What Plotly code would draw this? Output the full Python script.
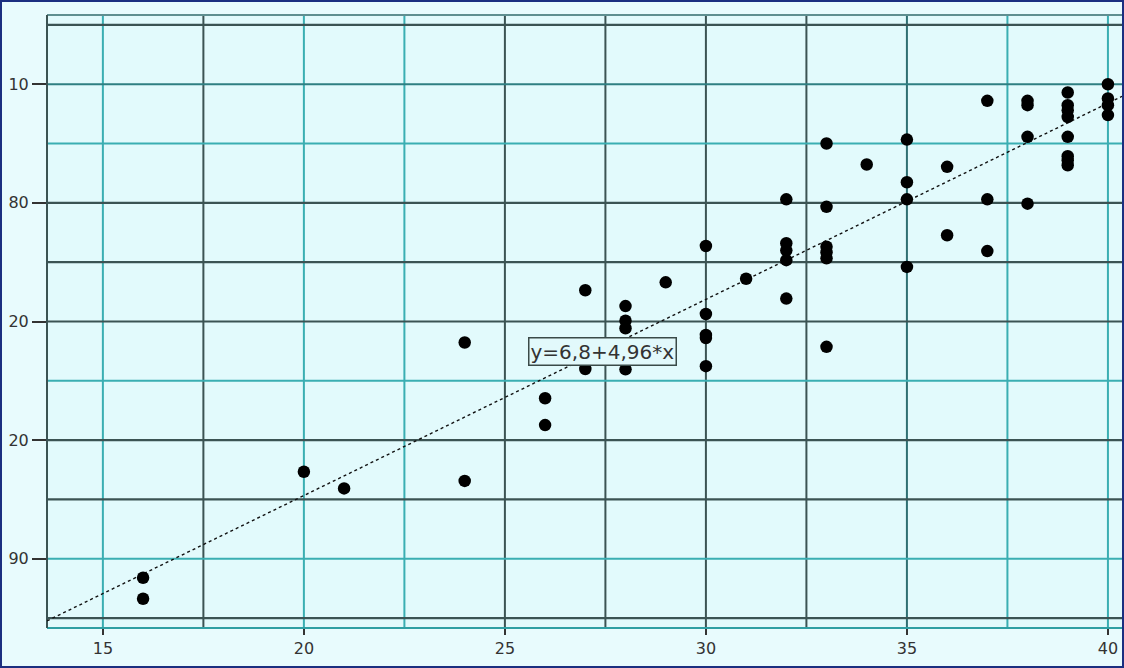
import plotly.graph_objects as go

# ---- data ----
x_vals = [16, 16, 20, 21, 24, 24, 26, 26, 27, 27,
          28, 28, 28, 28, 29,
          30, 30, 30, 30, 30, 31,
          32, 32, 32, 32, 32,
          33, 33, 33, 33, 33, 33,
          34, 35, 35, 35, 35, 36, 36,
          37, 37, 37,
          38, 38, 38, 38,
          39, 39, 39, 39, 39, 39, 39, 39,
          40, 40, 40, 40]
y_vals = [85.2, 79.9, 112.0, 107.8, 144.7, 109.7, 130.6, 123.8, 157.9, 138.0,
          153.9, 150.2, 148.3, 137.9, 159.9,
          169.1, 151.9, 146.6, 145.8, 138.7, 160.8,
          180.9, 169.8, 168.0, 165.5, 155.8,
          195.0, 179.0, 168.9, 167.5, 166.0, 143.6,
          189.7, 196.0, 185.2, 180.9, 163.8, 189.1, 171.8,
          205.8, 180.9, 167.8,
          205.8, 204.7, 196.7, 179.8,
          207.9, 204.7, 203.4, 201.7, 196.7, 191.8, 190.8, 189.5,
          210.0, 206.4, 204.7, 202.2]

fit_intercept = 6.8
fit_slope = 4.96
fit_label = "y=6,8+4,96*x"

x_tickvals = [15, 20, 25, 30, 35, 40]
x_ticktext = ["15", "20", "25", "30", "35", "40"]
y_tickvals = [210, 180, 150, 120, 90]
y_ticktext = ["10", "80", "20", "20", "90"]

# ---- layout constants ----
X_RANGE = [13.61, 40.35]
Y_RANGE = [72.5, 227.5]
TEAL = "#3aaeb2"
DARK = "#3b5353"
FONT = "DejaVu Sans, Liberation Sans, Arial, sans-serif"

fig = go.Figure()

# regression line
fit_x = list(X_RANGE)
fit_y = [fit_intercept + fit_slope * v for v in fit_x]
fig.add_trace(go.Scatter(x=fit_x, y=fit_y, mode="lines",
                         line=dict(color="#111111", width=1.4, dash="dot"),
                         hoverinfo="skip", showlegend=False))

# points
fig.add_trace(go.Scatter(x=x_vals, y=y_vals, mode="markers",
                         marker=dict(color="#000000", size=12.5, symbol="circle"),
                         showlegend=False))

shapes = []
v_lines = [(15, TEAL), (17.5, DARK), (20, TEAL), (22.5, TEAL), (25, DARK),
           (27.5, DARK), (30, DARK), (32.5, DARK), (35, "#2f6f72"),
           (37.5, TEAL), (40, TEAL)]
for xv, c in v_lines:
    shapes.append(dict(type="line", xref="x", yref="paper", x0=xv, x1=xv,
                       y0=0, y1=1, line=dict(color=c, width=2), layer="below"))
h_lines = [(225, DARK), (210, "#2f7f82"), (195, TEAL), (180, DARK), (165, DARK),
           (150, DARK), (135, TEAL), (120, DARK), (105, DARK), (90, TEAL),
           (75, DARK)]
for yv, c in h_lines:
    shapes.append(dict(type="line", xref="paper", yref="y", x0=0, x1=1,
                       y0=yv, y1=yv, line=dict(color=c, width=2.2 if c == DARK else 2),
                       layer="below"))
shapes.append(dict(type="line", xref="paper", yref="paper", x0=0, x1=1, y0=1, y1=1,
                   line=dict(color="#5f8f90", width=2), layer="below"))
shapes.append(dict(type="line", xref="paper", yref="paper", x0=0, x1=1, y0=0, y1=0,
                   line=dict(color="#2f9fa3", width=2), layer="below"))
shapes.append(dict(type="line", xref="paper", yref="paper", x0=0, x1=0, y0=0, y1=1,
                   line=dict(color=DARK, width=2), layer="below"))

W, H = 1124, 668
ML, MR, MT, MB = 47, 2, 15, 40
pw, ph = W - ML - MR, H - MT - MB
shapes.append(dict(type="rect", xref="paper", yref="paper",
                   x0=(-ML + 1) / pw, x1=1 + (MR - 1) / pw,
                   y0=(-MB + 1) / ph, y1=1 + (MT - 1) / ph,
                   line=dict(color="#1b2f80", width=2), fillcolor="rgba(0,0,0,0)",
                   layer="above"))

fig.update_layout(
    width=W, height=H,
    margin=dict(l=ML, r=MR, t=MT, b=MB, pad=0),
    paper_bgcolor="#e8fbfd",
    plot_bgcolor="#e2fafc",
    shapes=shapes,
    showlegend=False,
    font=dict(family=FONT, size=16, color="#333333"),
    annotations=[dict(x=27.44, y=142.3, xref="x", yref="y", text=fit_label,
                      showarrow=False, font=dict(family=FONT, size=20, color="#333333"),
                      bgcolor="#e2f9fb", bordercolor="#3a4a48", borderwidth=1.5,
                      borderpad=1)],
)
fig.update_xaxes(range=X_RANGE, showgrid=False, zeroline=False,
                 tickvals=x_tickvals, ticktext=x_ticktext,
                 ticks="outside", ticklen=6, tickwidth=1.5, tickcolor="#333333",
                 showline=False, fixedrange=True)
fig.update_yaxes(range=Y_RANGE, showgrid=False, zeroline=False,
                 tickvals=y_tickvals, ticktext=y_ticktext,
                 ticks="outside", ticklen=14, tickwidth=1.5, tickcolor="#333333",
                 showline=False, fixedrange=True)

fig.write_html("out.html",
               config={"displayModeBar": False},
               post_script="document.body.style.margin='0px';"
                           "document.body.style.background='#e8fbfd';"
                           "document.body.style.overflow='hidden';")
